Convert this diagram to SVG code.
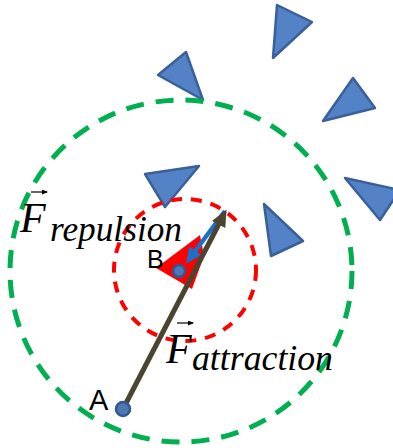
<svg xmlns="http://www.w3.org/2000/svg" width="393" height="448" viewBox="0 0 393 448">
<style>
.tri{fill:#5283c6;stroke:#3a5f98;stroke-width:2.5;stroke-linejoin:round;filter:url(#soft)}
.math{font-family:"Liberation Serif","Times New Roman",serif;font-style:italic;fill:#000}
.lbl{font-family:"Liberation Sans",Arial,sans-serif;fill:#000}
.node{fill:#4c78b8;stroke:#34578c;stroke-width:2.5}
.vec{stroke:#000;stroke-width:1.2}
</style>
<defs>
<filter id="soft" x="-20%" y="-20%" width="140%" height="140%"><feGaussianBlur stdDeviation="0.6"/></filter>
<marker id="headOlive" markerUnits="userSpaceOnUse" markerWidth="18" markerHeight="16" refX="4" refY="7.5" orient="auto"><path d="M0,0 L17,7.5 L0,15 z" fill="#4b4430"/></marker>
<marker id="headBlue" markerUnits="userSpaceOnUse" markerWidth="17" markerHeight="16" refX="4" refY="7.5" orient="auto"><path d="M0,0 L16,7.5 L0,15 z" fill="#1b6fc6"/></marker>
<marker id="headVec" markerUnits="userSpaceOnUse" markerWidth="6" markerHeight="6" refX="5" refY="2.5" orient="auto"><path d="M0,0 L6,2.5 L0,5 z" fill="#000"/></marker>
</defs>
<g id="obstacles">
<polygon class="tri" points="277,5 312,22 273,58"/>
<polygon class="tri" points="158,75 186,52 203,100"/>
<polygon class="tri" points="353,78 375,108 323,121"/>
<polygon class="tri" points="145,174 199,166 165,207"/>
<polygon class="tri" points="345,178 400,190 380,220"/>
<polygon class="tri" points="264,204 303,241 271,256"/>
</g>
<g id="ranges">
<circle id="sensing-range" cx="181" cy="271" r="171" fill="none" stroke="#00b050" stroke-width="5" stroke-dasharray="18 12"/>
<circle id="repulsion-range" cx="185" cy="270" r="71" fill="none" stroke="#ff0000" stroke-width="4" stroke-dasharray="11 9"/>
</g>
<g id="robot-B">
<polygon points="156,268 200,235 204,256 192,289" fill="#ff0000" filter="url(#soft)"/>
</g>
<g id="connectors">
<line x1="225" y1="211" x2="193" y2="254" stroke="#1b6fc6" stroke-width="4.5" marker-end="url(#headBlue)"/>
<line x1="123" y1="409" x2="220.5" y2="221" stroke="#4b4430" stroke-width="5" marker-end="url(#headOlive)"/>
</g>
<g id="node-A">
<circle class="node" cx="123" cy="409" r="7"/>
<text class="lbl" x="89" y="410" style="font-size:29px">A</text>
</g>
<g id="node-B">
<circle class="node" cx="179" cy="271" r="6"/>
<text class="lbl" x="147" y="268" style="font-size:25px">B</text>
</g>
<g id="label-repulsion">
<line class="vec" x1="31" y1="192" x2="47" y2="192" marker-end="url(#headVec)"/>
<text class="math" x="20" y="232" font-size="42">F</text>
<text class="math" x="50" y="241" font-size="36" textLength="132" lengthAdjust="spacingAndGlyphs">repulsion</text>
</g>
<g id="label-attraction">
<line class="vec" x1="177" y1="323" x2="193" y2="323" marker-end="url(#headVec)"/>
<text class="math" x="166" y="363" font-size="42">F</text>
<text class="math" x="192" y="370" font-size="36" textLength="141" lengthAdjust="spacingAndGlyphs">attraction</text>
</g>
</svg>
